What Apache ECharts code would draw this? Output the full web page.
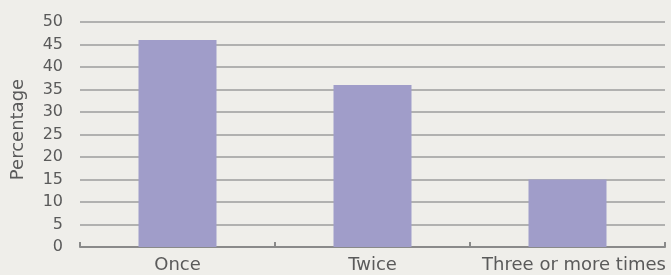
<!DOCTYPE html>
<html><head><meta charset="utf-8">
<script src="https://cdn.jsdelivr.net/npm/echarts@6/dist/echarts.min.js"></script>
<style>html,body{margin:0;padding:0;background:#efeeea;}#c{width:671px;height:275px;}</style>
</head><body><div id="c"></div>
<script>
const categories = ["Once", "Twice", "Three or more times"];
const values = [46, 36, 15];
const yTicks = [0, 5, 10, 15, 20, 25, 30, 35, 40, 45, 50];

const FONT = 'DejaVu Sans, Verdana, sans-serif';
const chart = echarts.init(document.getElementById('c'), null, {renderer: 'canvas'});
chart.setOption({
  backgroundColor: '#efeeea',
  animation: false,
  grid: {left: 80, right: 6, top: 22, bottom: 28, containLabel: false},
  xAxis: {
    type: 'category',
    data: categories,
    axisLine: {lineStyle: {color: '#8a8a8a', width: 2}},
    axisTick: {show: true, inside: true, length: 5, interval: 0, lineStyle: {color: '#8a8a8a', width: 2}},
    axisLabel: {
      interval: 0, hideOverlap: false,
      color: '#5a5a5a', fontSize: 18, fontFamily: FONT, margin: 9,
      formatter: function (v, i) { return i === categories.length - 1 ? '{s|' + v + '}' : v; },
      rich: {s: {color: '#5a5a5a', fontSize: 18, fontFamily: FONT, padding: [0, 0, 0, 13]}}
    }
  },
  yAxis: {
    type: 'value',
    min: yTicks[0], max: yTicks[yTicks.length - 1], interval: 5,
    name: 'Percentage',
    nameLocation: 'middle',
    nameGap: 53,
    nameTextStyle: {color: '#5a5a5a', fontSize: 18, fontFamily: FONT, padding: [0, 0, 0, 10]},
    axisLine: {show: false},
    axisTick: {show: false},
    axisLabel: {color: '#5a5a5a', fontSize: 16, fontFamily: FONT, margin: 17},
    splitLine: {lineStyle: {color: '#9c9c9c', width: 1.5}}
  },
  series: [{
    type: 'bar',
    data: values,
    barWidth: '40%',
    itemStyle: {color: '#a09dc9'}
  }]
});
</script></body></html>
